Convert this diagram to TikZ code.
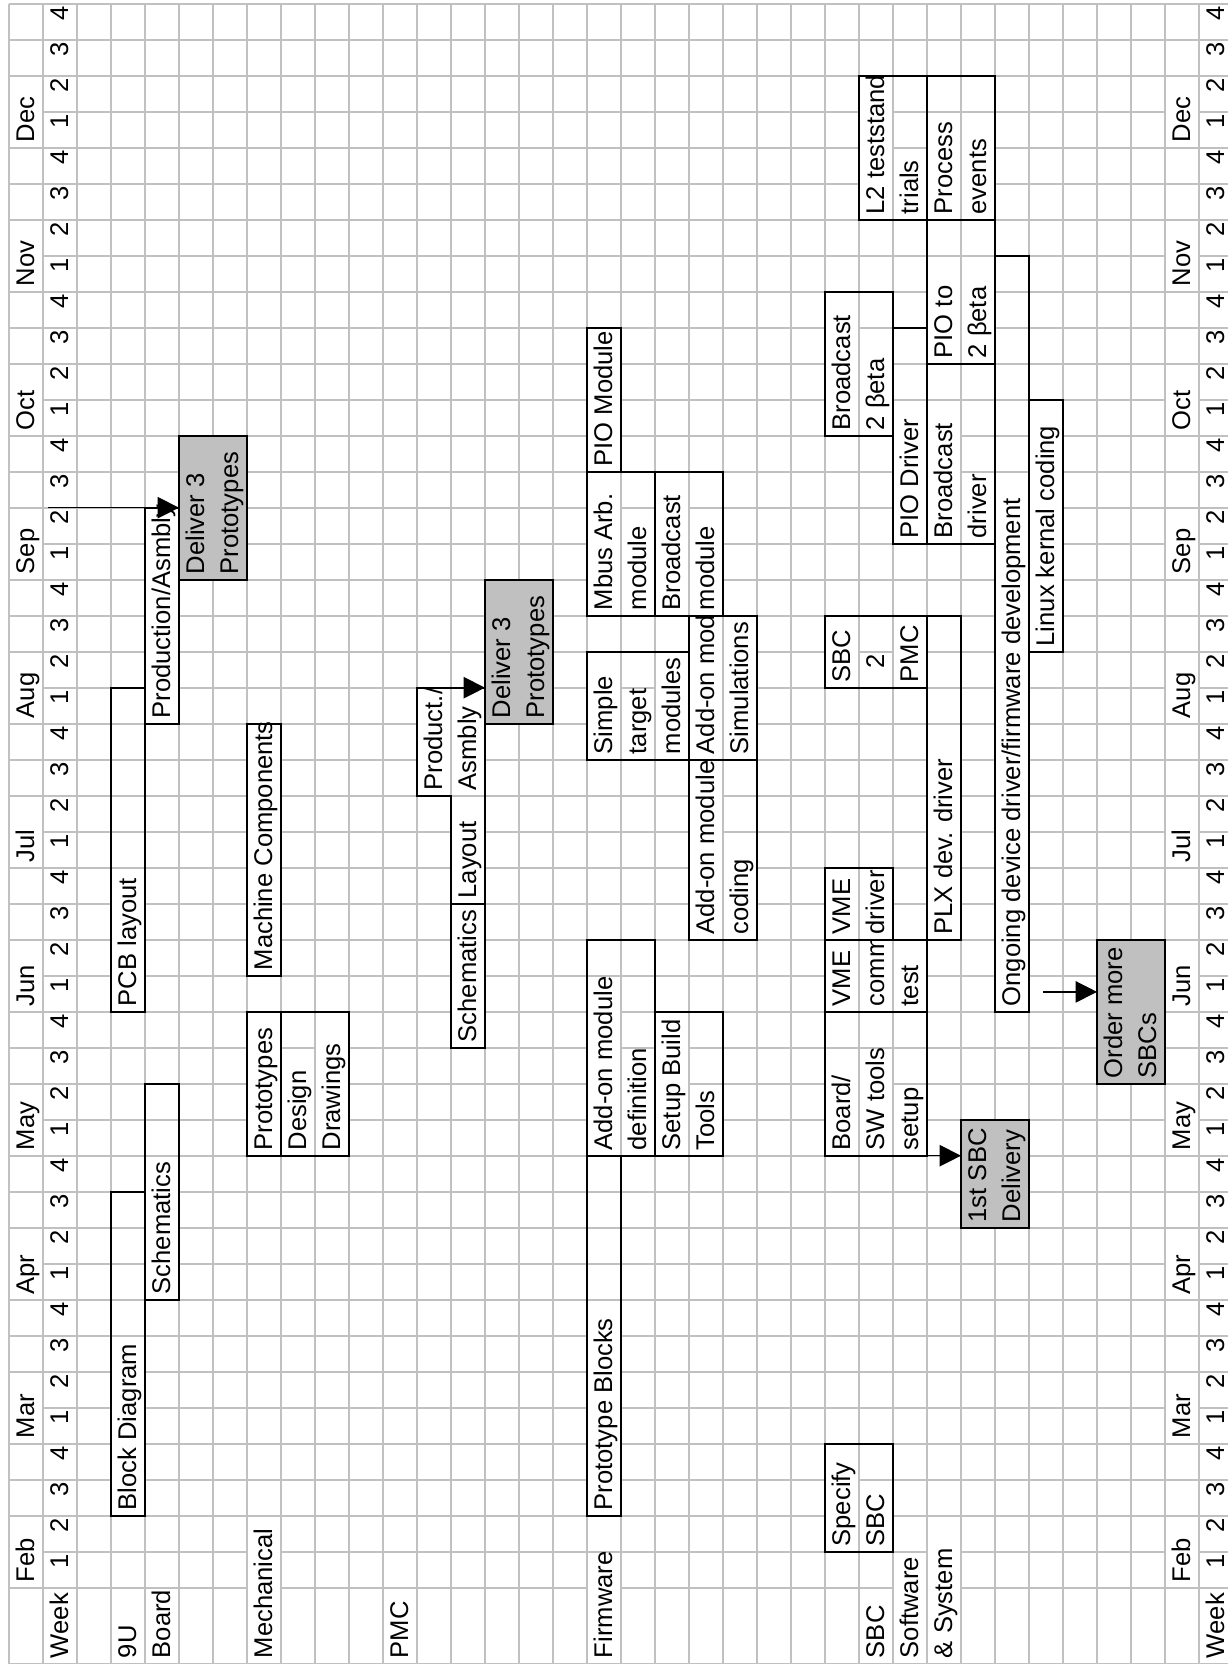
\documentclass[tikz,border=0pt]{standalone}
\usepackage{fontspec}
\setmainfont{Liberation Sans}
\usetikzlibrary{arrows.meta}
\definecolor{gridgray}{RGB}{192,192,192}
\definecolor{fillgray}{RGB}{192,192,192}
\newcommand\gtext[4]{\node[txt] (#1) at (#2+0.74,#3+0.15) {#4};}
\newcommand\gnum[4]{\node[num] (#1) at (#2+0.74,#3+0.94) {#4};}
\newcommand\gmask[3]{\fill[white] (#1+0.04,#2+0.04) rectangle (#1+0.96,#3-0.04);}
\begin{document}
\begin{tikzpicture}[x=12.75pt,y=13.5pt,
  gridline/.style={draw=gridgray,line width=0.6pt},
  bar/.style={draw=black,line width=0.8pt},
  mile/.style={draw=black,line width=0.8pt,fill=fillgray,rectangle,inner sep=0pt,outer sep=0pt,anchor=south west},
  txt/.style={rotate=90,anchor=base west,inner sep=0pt,outer sep=0pt,font=\fontsize{9.6}{11}\selectfont},
  num/.style={rotate=90,anchor=base east,inner sep=0pt,outer sep=0pt,font=\fontsize{9.6}{11}\selectfont},
  link/.style={draw=black,line width=0.5pt,-{Triangle[length=8pt,width=8pt]}}
]
\useasboundingbox (-0.2647,-2.258) rectangle (35.853,44.103);
\clip (-0.2647,-2.258) rectangle (35.853,44.103);

% ---------- grid ----------
\foreach \k in {0,...,36} \draw[gridline] (\k,-2.106) -- (\k,44);
\foreach \r in {0,...,44} \draw[gridline] (0,\r) -- (37,\r);
\draw[gridline] (0,-2.106) -- (37,-2.106);

% ---------- gridlines hidden under overflowing text ----------
\foreach \m in {0,4,...,40} {\gmask{0}{\m}{\m+2}\gmask{34}{\m}{\m+2}}
\gmask{7}{-2.106}{2}\gmask{17}{-2.106}{1}\gmask{26}{-2.106}{1}\gmask{27}{-2.106}{2}
\gmask{3}{2}{7}\gmask{3}{16}{20}\gmask{4}{8}{12}\gmask{4}{24}{30}
\gmask{7}{12}{16}\gmask{8}{12}{15}\gmask{9}{12}{16}\gmask{7}{17}{24}
\gmask{13}{15}{19}\gmask{13}{19}{22}\gmask{12}{22}{25}\gmask{13}{22}{25}
\gmask{17}{2}{8}\gmask{17}{12}{17}\gmask{18}{12}{15}\gmask{19}{12}{16}\gmask{20}{12}{14}
\gmask{20}{18}{23}\gmask{21}{18}{21}
\gmask{17}{23}{26}\gmask{18}{23}{25}\gmask{19}{23}{26}\gmask{20}{23}{27}\gmask{21}{23}{27}
\gmask{17}{27}{31}\gmask{18}{27}{30}\gmask{19}{27}{31}\gmask{20}{27}{30}\gmask{17}{31}{35}
\gmask{24}{1}{4}\gmask{25}{1}{3}
\gmask{24}{12}{15}\gmask{25}{12}{15}\gmask{26}{12}{14}
\gmask{24}{16}{18}\gmask{25}{16}{18}\gmask{26}{16}{18}
\gmask{24}{18}{20}\gmask{25}{18}{20}\gmask{27}{18}{24}
\gmask{24}{25}{27}\gmask{26}{25}{27}
\gmask{29}{16}{31}\gmask{30}{26}{33}
\gmask{24}{32}{36}\gmask{25}{32}{35}\gmask{26}{29}{33}\gmask{27}{29}{33}\gmask{28}{29}{31}
\gmask{27}{34}{37}\gmask{28}{34}{37}
\gmask{25}{38}{42}\gmask{26}{38}{40}\gmask{27}{38}{41}\gmask{28}{38}{41}

% ---------- milestones (grey boxes) ----------
\node[mile,minimum width=25.5pt,minimum height=54pt] (del1) at (5,28) {};
\node[mile,minimum width=25.5pt,minimum height=54pt] (del2) at (14,24) {};
\node[mile,minimum width=25.5pt,minimum height=40.5pt] (del3) at (28,10) {};
\node[mile,minimum width=25.5pt,minimum height=54pt] (del4) at (32,14) {};

% ---------- task boxes ----------
% 9U board
\draw[bar] (3,2) rectangle (4,11);
\draw[bar] (4,8) rectangle (5,14);
\draw[bar] (3,16) rectangle (4,25);
\draw[bar] (4,24) rectangle (5,30);
% mechanical
\draw[bar] (7,12) rectangle (8,16);
\draw[bar] (8,12) rectangle (10,16);
\draw[bar] (7,17) rectangle (8,24);
% PMC
\draw[bar] (13,15) rectangle (14,19);
\draw[bar] (13,19) -- (13,22) -- (12,22) -- (12,25) -- (14,25) -- (14,19) -- cycle;
% firmware
\draw[bar] (17,2) rectangle (18,12);
\draw[bar] (17,12) rectangle (19,18);
\draw[bar] (19,12) rectangle (21,16);
\draw[bar] (20,18) rectangle (22,23);
\draw[bar] (17,23) rectangle (20,26);
\draw[bar] (20,23) rectangle (22,27);
\draw[bar] (17,27) rectangle (19,31);
\draw[bar] (19,27) rectangle (21,31);
\draw[bar] (17,31) rectangle (18,35);
% SBC software & system
\draw[bar] (24,1) rectangle (26,4);
\draw[bar] (24,12) rectangle (27,16);
\draw[bar] (24,16) rectangle (27,18);
\draw[bar] (24,18) rectangle (26,20);
\draw[bar] (27,18) rectangle (28,27);
\draw[bar] (24,25) rectangle (27,27);
\draw[bar] (24,32) rectangle (26,36);
\draw[bar] (26,29) rectangle (27,35);
\draw[bar] (27,29) rectangle (29,34);
\draw[bar] (27,34) rectangle (29,38);
\draw[bar] (25,38) rectangle (27,42);
\draw[bar] (27,38) rectangle (29,42);
\draw[bar] (29,16) rectangle (30,37);
\draw[bar] (30,26) rectangle (31,33);

% ---------- header: months and weeks ----------
\foreach \w/\mn in {0/Feb,4/Mar,8/Apr,12/May,16/Jun,20/Jul,24/Aug,28/Sep,32/Oct,36/Nov,40/Dec} {
  \node[txt] (mL\w) at (0.74,\w+0.15) {\mn};
  \node[txt] (mR\w) at (34.74,\w+0.15) {\mn};
}
\foreach \w in {0,...,43} {
  \pgfmathtruncatemacro\d{mod(\w,4)+1}
  \node[num] (wL\w) at (1.74,\w+0.94) {\d};
  \node[num] (wR\w) at (35.74,\w+0.94) {\d};
}
\gtext{hw1}{1}{-2.106}{Week}
\gtext{hw2}{35}{-2.106}{Week}
\gtext{h9u}{3}{-2.106}{9U}
\gtext{hbrd}{4}{-2.106}{Board}
\gtext{hmech}{7}{-2.106}{Mechanical}
\gtext{hpmc}{11}{-2.106}{PMC}
\gtext{hfirm}{17}{-2.106}{Firmware}
\gtext{hsbc}{25}{-2.106}{SBC}
\gtext{hsoft}{26}{-2.106}{Software}
\gtext{hsys}{27}{-2.106}{\& System}

% ---------- task texts ----------
\gtext{bd}{3}{2}{Block Diagram}
\gtext{pcb}{3}{16}{PCB layout}
\gtext{sch}{4}{8}{Schematics}
\gtext{prod}{4}{24}{Production/Asmbly}
\gtext{dl1a}{5}{28}{Deliver 3}
\gtext{dl1b}{6}{28}{Prototypes}

\gtext{mp}{7}{12}{Prototypes}
\gtext{md}{8}{12}{Design}
\gtext{mdr}{9}{12}{Drawings}
\gtext{mc}{7}{17}{Machine Components}

\gtext{ps}{13}{15}{Schematics}
\gtext{pl}{13}{19}{Layout}
\gtext{pp}{12}{22}{Product./}
\gtext{pa}{13}{22}{Asmbly}
\gtext{dl2a}{14}{24}{Deliver 3}
\gtext{dl2b}{15}{24}{Prototypes}

\gtext{fpb}{17}{2}{Prototype Blocks}
\gtext{fad}{17}{12}{Add-on module}
\gtext{fdef}{18}{12}{definition}
\gtext{fsb}{19}{12}{Setup Build}
\gtext{ftl}{20}{12}{Tools}
\gtext{fac}{20}{18}{Add-on module}
\gtext{fcod}{21}{18}{coding}
\gtext{fsi}{17}{23}{Simple}
\gtext{fta}{18}{23}{target}
\gtext{fmo}{19}{23}{modules}
\begin{scope}
\clip (20,23) rectangle (21,27);
\gtext{fas}{20}{23}{Add-on module}
\end{scope}
\gtext{fsim}{21}{23}{Simulations}
\gtext{fmb}{17}{27}{Mbus Arb.}
\gtext{fmbm}{18}{27}{module}
\gtext{fbc}{19}{27}{Broadcast}
\gtext{fbcm}{20}{27}{module}
\gtext{fpio}{17}{31}{PIO Module}

\gtext{ssp}{24}{1}{Specify}
\gtext{ssb}{25}{1}{SBC}
\gtext{dl3a}{28}{10}{1st SBC}
\gtext{dl3b}{29}{10}{Delivery}
\gtext{sbo}{24}{12}{Board/}
\gtext{ssw}{25}{12}{SW tools}
\gtext{sse}{26}{12}{setup}
\gtext{sv1}{24}{16}{VME}
\begin{scope}
\clip (25,16) rectangle (26,18);
\gtext{sco}{25}{16}{comm}
\end{scope}
\gtext{ste}{26}{16}{test}
\gtext{sv2}{24}{18}{VME}
\gtext{sdr}{25}{18}{driver}
\gtext{splx}{27}{18}{PLX dev. driver}
\gtext{ssbc}{24}{25}{SBC}
\gnum{stwo}{25}{25}{2}
\gtext{spmc}{26}{25}{PMC}
\gtext{song}{29}{16}{Ongoing device driver/firmware development}
\gtext{slin}{30}{26}{Linux kernal coding}
\gtext{dl4a}{32}{14}{Order more}
\gtext{dl4b}{33}{14}{SBCs}
\gtext{sbc1}{24}{32}{Broadcast}
\gtext{sbe1}{25}{32}{2 βeta}
\gtext{spd}{26}{29}{PIO Driver}
\gtext{sbc2}{27}{29}{Broadcast}
\gtext{sdr2}{28}{29}{driver}
\gtext{spt}{27}{34}{PIO to}
\gtext{sbe2}{28}{34}{2 βeta}
\gtext{sl2}{25}{38}{L2 teststand}
\gtext{str}{26}{38}{trials}
\gtext{spr}{27}{38}{Process}
\gtext{sev}{28}{38}{events}

% ---------- arrows ----------
\coordinate (a1s) at (1.16,30);
\draw[link] (a1s) -- (a1s -| del1.west);
\coordinate (a2s) at (12.7,25);
\draw[link] (a2s) -- (a2s -| del2.west);
\coordinate (a3s) at (24.93,12);
\draw[link] (a3s) -- (a3s -| del3.west);
\coordinate (a4s) at (30.42,16.55);
\draw[link] (a4s) -- (a4s -| del4.west);
\end{tikzpicture}
\end{document}
